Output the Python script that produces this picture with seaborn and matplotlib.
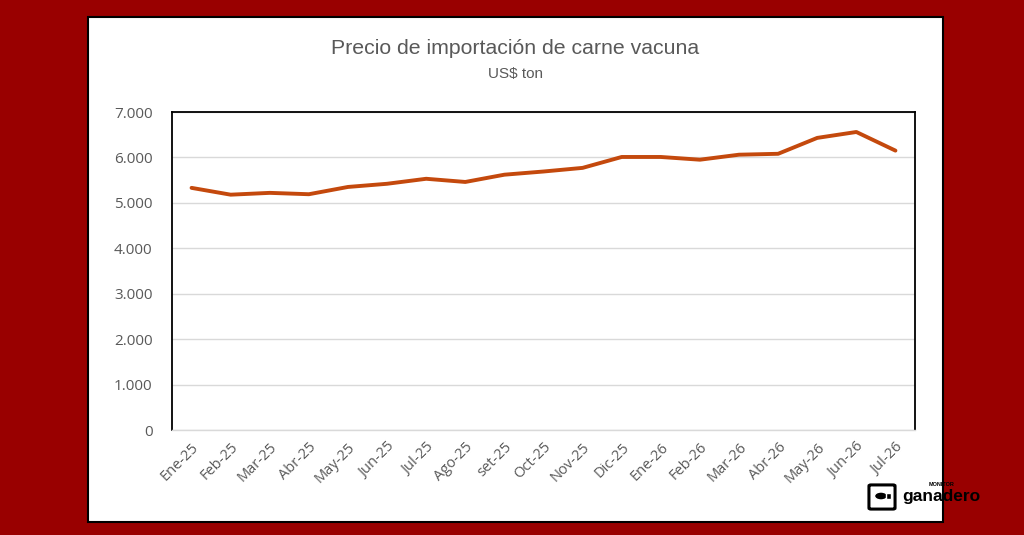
import numpy as np
import pandas as pd
import matplotlib
matplotlib.use('Agg')
import matplotlib.pyplot as plt
import seaborn as sns
from matplotlib.patches import Rectangle, FancyBboxPatch, Ellipse
from matplotlib.ticker import FuncFormatter

# ── Data ──────────────────────────────────────────────────────────────────────

months = ['Ene-25', 'Feb-25', 'Mar-25', 'Abr-25', 'May-25', 'Jun-25', 'Jul-25',
          'Ago-25', 'set-25', 'Oct-25', 'Nov-25', 'Dic-25', 'Ene-26', 'Feb-26',
          'Mar-26', 'Abr-26', 'May-26', 'Jun-26', 'Jul-26']
price = [5330, 5180, 5220, 5190, 5350, 5420, 5530, 5460, 5620, 5690, 5770,
         6010, 6010, 5950, 6060, 6080, 6430, 6560, 6150]
y_ticks = [0, 1000, 2000, 3000, 4000, 5000, 6000, 7000]

title = 'Precio de importación de carne vacuna'
subtitle = 'US$ ton'

# ── Style ─────────────────────────────────────────────────────────────────────

sns.set_style('white')
plt.rcParams['font.family'] = ['Open Sans', 'DejaVu Sans']

BG = '#990000'
LINE = '#C4490D'
GREY = '#595959'
GRID = '#D9D9D9'

df = pd.DataFrame({'mes': months, 'precio': price, 'pos': np.arange(len(months))})

fig = plt.figure(figsize=(10.24, 5.35), dpi=100)
fig.patch.set_facecolor(BG)

# white chart panel (behind the axes)
fig.patches.append(Rectangle((88 / 1024, 1 - 522 / 535), (943 - 88) / 1024,
                             (522 - 17) / 535, transform=fig.transFigure,
                             facecolor='white', edgecolor='black', lw=1.5,
                             zorder=-5))

ax = fig.add_axes([172 / 1024, 1 - 430 / 535, (915 - 172) / 1024, (430 - 112) / 535])
ax.set_zorder(2)
ax.set_facecolor('white')

sns.lineplot(data=df, x='pos', y='precio', color=LINE, lw=2.8, ax=ax,
             solid_capstyle='round', zorder=3)

ax.set_xlim(-0.5, len(months) - 0.5)
ax.set_ylim(0, 7000)
ax.set_yticks(y_ticks)
ax.yaxis.set_major_formatter(FuncFormatter(lambda v, p: f'{int(v):,}'.replace(',', '.')))
ax.grid(axis='y', color=GRID, lw=1)
ax.set_axisbelow(True)

ax.set_xticks(np.arange(len(months)))
ax.set_xticklabels(months, rotation=45, ha='right', rotation_mode='anchor')
ax.set_xticks(np.arange(len(months) + 1) - 0.5, minor=True)
ax.tick_params(axis='x', which='major', length=0, pad=7, labelsize=10.5, labelcolor=GREY)
ax.tick_params(axis='x', which='minor', length=5, color=GRID, width=1)
ax.tick_params(axis='y', length=0, pad=14, labelsize=11, labelcolor=GREY)
ax.set_xlabel('')
ax.set_ylabel('')

for s in ['left', 'top', 'right']:
    ax.spines[s].set_color('black')
    ax.spines[s].set_linewidth(1.3)
ax.spines['bottom'].set_color(GRID)
ax.spines['bottom'].set_linewidth(1)

narrow = ['Liberation Sans', 'DejaVu Sans']
fig.text(515 / 1024, 1 - 48 / 535, title, ha='center', va='center',
         fontsize=15.3, color=GREY, family=narrow)
fig.text(515 / 1024, 1 - 74 / 535, subtitle, ha='center', va='center',
         fontsize=11, color=GREY, family=narrow)

# logo: boxed bull + wordmark
fig.patches.append(FancyBboxPatch((871 / 1024, 1 - 508 / 535), 22 / 1024, 22 / 535,
                                  boxstyle='round,pad=0.002', transform=fig.transFigure,
                                  facecolor='white', edgecolor='black', lw=2.2, zorder=5))
fig.patches.append(Ellipse((881 / 1024, 1 - 496 / 535), 13 / 1024, 8 / 535,
                           transform=fig.transFigure, facecolor='black', zorder=6))
fig.patches.append(Rectangle((886 / 1024, 1 - 499 / 535), 5 / 1024, 6 / 535,
                             transform=fig.transFigure, facecolor='black', zorder=6))
fig.text(902 / 1024, 1 - 497 / 535, 'ganadero', ha='left', va='center',
         fontsize=12.5, fontweight='bold', color='black', family=narrow)
fig.text(929 / 1024, 1 - 484 / 535, 'MONITOR', ha='left', va='center',
         fontsize=4, fontweight='bold', color='black', family=narrow)

fig.savefig('out.png', dpi=100, facecolor=BG)
